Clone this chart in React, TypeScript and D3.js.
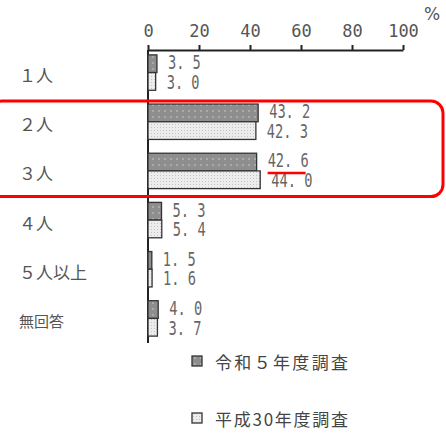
import React, { useEffect, useRef } from "react";
import * as d3 from "d3";

const categories = ["１人", "２人", "３人", "４人", "５人以上", "無回答"];
const seriesNames = ["令和５年度調査", "平成30年度調査"];
const reiwa5 = [3.5, 43.2, 42.6, 5.3, 1.5, 4.0];
const heisei30 = [3.0, 42.3, 44.0, 5.4, 1.6, 3.7];
const xTicks = [0, 20, 40, 60, 80, 100];
const highlighted = ["２人", "３人"];

export default function App() {
  const svgRef = useRef<SVGSVGElement>(null);

  useEffect(() => {
    const width = 446;
    const height = 436;
    const svg = d3.select(svgRef.current).attr("width", width).attr("height", height);
    svg.selectAll("*").remove();

    svg.append("rect").attr("width", width).attr("height", height).attr("fill", "#fff");

    // patterns for the two series
    const defs = svg.append("defs");
    const pd = defs
      .append("pattern")
      .attr("id", "patDark")
      .attr("width", 6)
      .attr("height", 6)
      .attr("patternUnits", "userSpaceOnUse");
    pd.append("rect").attr("width", 6).attr("height", 6).attr("fill", "#8e8e8e");
    pd.append("circle").attr("cx", 3).attr("cy", 3).attr("r", 0.9).attr("fill", "#b8b8b8");
    const pl = defs
      .append("pattern")
      .attr("id", "patLight")
      .attr("width", 3)
      .attr("height", 3)
      .attr("patternUnits", "userSpaceOnUse");
    pl.append("rect").attr("width", 3).attr("height", 3).attr("fill", "#ececec");
    pl.append("rect").attr("x", 1).attr("y", 1).attr("width", 1).attr("height", 1).attr("fill", "#c4c4c4");
    const fills = ["url(#patDark)", "url(#patLight)"];

    const x = d3.scaleLinear().domain([0, 100]).range([148, 403]);
    const y = d3.scaleBand<string>().domain(categories).range([48, 343]).paddingInner(0.28).paddingOuter(0.14);
    const ySub = d3.scaleBand<string>().domain(seriesNames).range([0, y.bandwidth()]);

    const series = [reiwa5, heisei30];

    // top axis
    const axis = svg
      .append("g")
      .attr("transform", "translate(0,50)")
      .call(d3.axisTop(x).tickValues(xTicks).tickSize(5).tickSizeOuter(0).tickPadding(8));
    axis.select(".domain").attr("stroke", "#222").attr("stroke-width", 2);
    axis.selectAll(".tick line").attr("stroke", "#222").attr("stroke-width", 2);
    axis
      .selectAll(".tick text")
      .attr("fill", "#555")
      .attr("font-size", 17)
      .attr("font-family", "DejaVu Sans Mono");

    svg
      .append("text")
      .attr("x", 432)
      .attr("y", 20)
      .attr("text-anchor", "middle")
      .attr("fill", "#555")
      .attr("font-size", 17)
      .attr("font-family", "DejaVu Sans")
      .text("%");

    // vertical axis line
    svg
      .append("line")
      .attr("x1", x(0))
      .attr("x2", x(0))
      .attr("y1", 50)
      .attr("y2", 343)
      .attr("stroke", "#222")
      .attr("stroke-width", 2);

    // category labels
    svg
      .append("g")
      .selectAll("text")
      .data(categories)
      .join("text")
      .attr("x", 19)
      .attr("y", (d) => (y(d) as number) + y.bandwidth() / 2 + 2)
      .attr("dominant-baseline", "central")
      .attr("fill", "#555")
      .attr("font-size", (d) => (d === "無回答" ? 15 : 17))
      .attr("font-family", "Noto Sans CJK JP")
      .text((d) => d);

    // bars
    series.forEach((vals, si) => {
      const g = svg.append("g");
      g.selectAll("rect")
        .data(vals)
        .join("rect")
        .attr("x", x(0))
        .attr("y", (d, i) => (y(categories[i]) as number) + (ySub(seriesNames[si]) as number))
        .attr("width", (d) => x(d) - x(0))
        .attr("height", ySub.bandwidth())
        .attr("fill", fills[si])
        .attr("stroke", "#333")
        .attr("stroke-width", 1.3);

      g.selectAll("text")
        .data(vals)
        .join("text")
        .attr("transform", (d, i) => {
          const tx = x(d) + 11;
          const ty = (y(categories[i]) as number) + (ySub(seriesNames[si]) as number) + ySub.bandwidth() / 2 + (si === 0 ? -1 : 1);
          return `translate(${tx},${ty}) scale(0.72,1)`;
        })
        .attr("dominant-baseline", "central")
        .attr("fill", "#666")
        .attr("font-size", 19)
        .attr("font-family", "DejaVu Sans Mono")
        .text((d) => d3.format(".1f")(d).replace(".", ". "));
    });

    // red highlight annotation
    const hTop = (y(highlighted[0]) as number) - 3;
    const hBottom = (y(highlighted[1]) as number) + y.bandwidth() + 8;
    svg
      .append("rect")
      .attr("x", -10)
      .attr("y", hTop)
      .attr("width", 453)
      .attr("height", hBottom - hTop)
      .attr("rx", 12)
      .attr("fill", "none")
      .attr("stroke", "#f00")
      .attr("stroke-width", 3);

    const i3 = categories.indexOf(highlighted[1]);
    const ux = x(reiwa5[i3]) + 11;
    const uy = (y(highlighted[1]) as number) + ySub.bandwidth() + 2;
    svg
      .append("line")
      .attr("x1", ux)
      .attr("x2", ux + 38)
      .attr("y1", uy)
      .attr("y2", uy)
      .attr("stroke", "#f00")
      .attr("stroke-width", 2.5);

    // legend
    const legendY = [361, 418];
    const legend = svg
      .append("g")
      .selectAll("g")
      .data(seriesNames)
      .join("g")
      .attr("transform", (d, i) => `translate(192,${legendY[i]})`);
    legend
      .append("rect")
      .attr("x", 0)
      .attr("y", -5)
      .attr("width", 10)
      .attr("height", 10)
      .attr("fill", (d, i) => fills[i])
      .attr("stroke", "#333")
      .attr("stroke-width", 1.3);
    legend
      .append("text")
      .attr("x", 23)
      .attr("y", 0)
      .attr("dominant-baseline", "central")
      .attr("fill", "#444")
      .attr("font-size", 17)
      .attr("font-family", "Noto Sans CJK JP")
      .attr("textLength", 133)
      .attr("lengthAdjust", "spacing")
      .text((d) => d);
  }, []);

  return <svg ref={svgRef} style={{ position: "absolute", left: 0, top: 0 }}></svg>;
}
